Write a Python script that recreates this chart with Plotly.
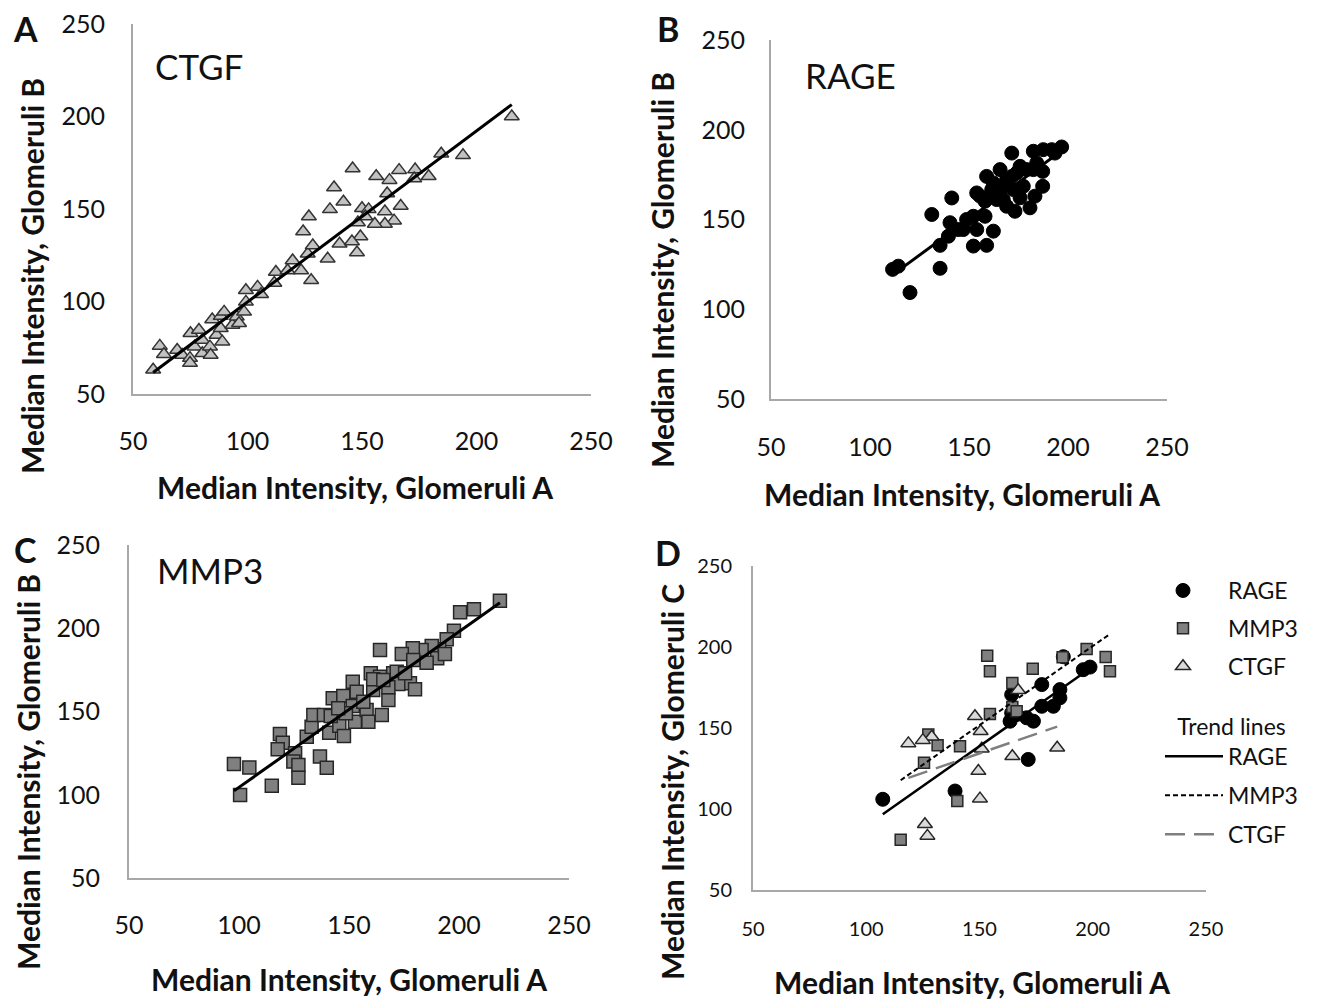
import numpy as np
import plotly.graph_objects as go

# page body adds an 8px margin; design in page pixels and compensate
OFF = 8
PAGE_W, PAGE_H = 1331, 999
W, H = PAGE_W - OFF, PAGE_H - OFF
FONT = "Lato"

tick_vals = [50, 100, 150, 200, 250]

# Panel A - CTGF (Glomeruli A vs B)
ctgf_a_x = [58.8, 61.7, 63.5, 69.3, 71.5, 74.9, 74.9, 75.1, 78.8, 76.9, 80.3, 80.3, 83.6, 83.9,
            84.6, 86.5, 88.3, 89.8, 89.0, 88.3, 93.4, 95.3, 96.3, 98.5, 99.3, 104.4, 105.9, 99.3,
            111.7, 112.4, 117.5, 119.7, 123.4, 127.8, 126.3, 128.5, 135.0, 140.2,
            215.4, 194.1, 184.6, 179.1, 173.2, 172.8, 166.2, 162.0, 156.2, 145.9, 137.8, 141.9,
            136.0, 126.8, 124.3, 161.0, 166.9, 160.0, 164.0, 160.0, 155.6, 150.0, 152.9, 148.2,
            149.3, 145.6, 147.8, 151.5]
ctgf_a_y = [63.1, 76.0, 71.5, 73.8, 71.1, 69.4, 66.7, 82.8, 84.6, 75.6, 79.2, 72.0, 75.6, 71.1,
            90.3, 81.9, 92.1, 94.4, 78.3, 85.5, 87.3, 91.8, 88.2, 94.4, 106.1, 107.9, 103.9, 99.8,
            110.0, 115.9, 116.8, 122.2, 116.8, 111.5, 125.8, 130.3, 123.1, 131.2,
            200.0, 179.0, 179.9, 167.7, 171.3, 166.5, 171.0, 165.6, 167.7, 171.9, 161.6, 153.9,
            149.8, 145.9, 137.8, 158.4, 151.6, 148.6, 143.7, 141.9, 141.9, 150.4, 149.8, 142.7,
            135.1, 132.4, 126.5, 145.9]

# Panel B - RAGE
rage_b_x = [120.2, 111.4, 114.3, 135.4, 135.4, 131.2, 141.3, 140.4, 139.6, 144.6, 152.2, 158.9,
            162.3, 153.9, 153.9, 158.1, 158.9, 162.3, 165.7, 169.0, 167.3, 173.2, 171.6, 174.1,
            177.4, 175.8, 180.8, 183.3, 187.2, 187.2, 182.5, 187.5, 191.8, 196.8, 184.2, 179.1,
            164.0, 169.0, 148.8, 147.1, 165.7, 161.5, 155.6, 171.6, 193.4, 172.4, 175.8, 158.1,
            152.2, 182.5]
rage_b_y = [109.3, 122.2, 124.0, 122.8, 135.6, 152.8, 162.0, 148.2, 140.7, 144.4, 135.2, 135.6,
            143.5, 144.4, 164.8, 160.2, 174.0, 170.4, 166.7, 172.2, 161.1, 154.6, 187.0, 175.9,
            168.5, 179.6, 156.5, 163.0, 168.5, 176.8, 188.0, 188.9, 188.9, 190.4, 181.5, 177.8,
            161.1, 157.4, 150.0, 144.4, 177.8, 166.7, 163.0, 174.0, 187.0, 166.7, 162.1, 151.8,
            151.8, 177.8]

# Panel C - MMP3
mmp3_c_x = [100.5, 97.7, 104.7, 114.9, 118.6, 119.9, 117.6, 125.5, 124.7, 127.0, 127.0, 130.8,
            133.0, 133.8, 138.6, 136.8, 139.9, 141.0, 142.6, 145.6, 147.4, 147.7, 151.7, 153.5,
            152.7, 151.7, 158.0, 158.8, 164.1, 159.9, 164.1, 164.9, 167.9, 161.0, 170.1, 148.6,
            156.5, 161.0, 141.7, 145.1,
            218.6, 206.8, 200.5, 197.7, 194.4, 191.0, 187.6, 183.0, 179.0, 174.0, 190.1, 185.3,
            179.2, 171.7, 177.7, 180.0, 172.4, 167.9, 165.6, 193.6, 175.5]
mmp3_c_y = [99.8, 118.5, 116.3, 105.4, 136.5, 131.3, 127.3, 124.9, 119.9, 117.9, 110.2, 134.9,
            140.9, 147.9, 147.9, 122.9, 116.2, 137.3, 157.9, 141.5, 159.3, 135.3, 167.9, 161.9,
            143.9, 153.3, 150.9, 143.9, 186.9, 172.9, 170.9, 147.9, 156.9, 162.9, 172.9, 148.9,
            155.9, 169.3, 147.3, 151.9,
            216.5, 211.4, 209.6, 198.5, 193.4, 187.4, 189.3, 186.9, 188.0, 184.5, 182.0, 179.3,
            180.9, 173.9, 166.9, 163.3, 166.5, 164.5, 168.9, 184.5, 172.9]

# Panel D - Glomeruli A vs C
rage_d_x = [107.3, 139.2, 171.5, 163.5, 170.8, 173.8, 164.2, 164.2, 177.5, 177.5, 182.6, 185.5,
            185.5, 195.8, 198.8, 187.0, 166.4]
rage_d_y = [106.0, 111.1, 130.6, 154.2, 156.3, 154.2, 159.3, 170.6, 176.8, 163.4, 163.4, 173.7,
            168.6, 186.0, 187.6, 194.0, 158.3]
mmp3_d_x = [153.4, 154.6, 173.5, 186.7, 164.5, 164.5, 166.4, 154.6, 127.4, 131.5, 141.4, 125.5,
            140.2, 115.2, 197.3, 205.7, 207.6]
mmp3_d_y = [194.6, 185.0, 186.6, 193.7, 177.8, 163.0, 160.3, 158.7, 146.0, 139.4, 138.8, 128.6,
            105.0, 81.0, 198.7, 193.8, 185.0]
ctgf_d_x = [118.6, 128.9, 125.0, 148.0, 150.5, 151.0, 149.5, 150.2, 167.1, 164.5, 184.3, 125.9,
            127.0]
ctgf_d_y = [140.5, 144.6, 142.5, 157.3, 148.0, 137.2, 123.4, 106.4, 173.3, 132.6, 137.8, 90.6,
            83.4]


def trend(xs, ys):
    xs = np.asarray(xs, float)
    ys = np.asarray(ys, float)
    m, b = np.polyfit(xs, ys, 1)
    x0, x1 = xs.min(), xs.max()
    return [x0, x1], [m * x0 + b, m * x1 + b]


def px_x(p):
    return (p - OFF) / W


def px_y(p):
    return 1 - (p - OFF) / H


fig = go.Figure()

EDGE = "#333333"

# A
tx, ty = trend(ctgf_a_x, ctgf_a_y)
fig.add_trace(go.Scatter(x=ctgf_a_x, y=ctgf_a_y, mode="markers", xaxis="x", yaxis="y",
                         marker=dict(symbol="triangle-up", size=13, color="#c2c2c2",
                                     line=dict(color=EDGE, width=1.5)), showlegend=False))
fig.add_trace(go.Scatter(x=tx, y=ty, mode="lines", xaxis="x", yaxis="y",
                         line=dict(color="black", width=3), showlegend=False))
# B
tx, ty = trend(rage_b_x, rage_b_y)
fig.add_trace(go.Scatter(x=rage_b_x, y=rage_b_y, mode="markers", xaxis="x2", yaxis="y2",
                         marker=dict(symbol="circle", size=14, color="black",
                                     line=dict(color="black", width=1)), showlegend=False))
fig.add_trace(go.Scatter(x=tx, y=ty, mode="lines", xaxis="x2", yaxis="y2",
                         line=dict(color="black", width=3), showlegend=False))
# C
tx, ty = trend(mmp3_c_x, mmp3_c_y)
fig.add_trace(go.Scatter(x=mmp3_c_x, y=mmp3_c_y, mode="markers", xaxis="x3", yaxis="y3",
                         marker=dict(symbol="square", size=13, color="#808080",
                                     line=dict(color="#262626", width=1.5)), showlegend=False))
fig.add_trace(go.Scatter(x=tx, y=ty, mode="lines", xaxis="x3", yaxis="y3",
                         line=dict(color="black", width=3), showlegend=False))
# D points
fig.add_trace(go.Scatter(x=rage_d_x, y=rage_d_y, mode="markers", xaxis="x4", yaxis="y4",
                         name="RAGE", legend="legend", legendgroup="p1",
                         marker=dict(symbol="circle", size=14, color="black",
                                     line=dict(color="black", width=1))))
fig.add_trace(go.Scatter(x=mmp3_d_x, y=mmp3_d_y, mode="markers", xaxis="x4", yaxis="y4",
                         name="MMP3", legend="legend", legendgroup="p2",
                         marker=dict(symbol="square", size=11, color="#808080",
                                     line=dict(color="#262626", width=1.5))))
fig.add_trace(go.Scatter(x=ctgf_d_x, y=ctgf_d_y, mode="markers", xaxis="x4", yaxis="y4",
                         name="CTGF", legend="legend", legendgroup="p3",
                         marker=dict(symbol="triangle-up", size=13, color="#dadada",
                                     line=dict(color="#262626", width=1.5))))
# D trend lines
tx, ty = trend(rage_d_x, rage_d_y)
fig.add_trace(go.Scatter(x=tx, y=ty, mode="lines", xaxis="x4", yaxis="y4", name="RAGE",
                         legend="legend2", legendgroup="l1",
                         line=dict(color="black", width=2.5)))
tx, ty = trend(mmp3_d_x, mmp3_d_y)
fig.add_trace(go.Scatter(x=tx, y=ty, mode="lines", xaxis="x4", yaxis="y4", name="MMP3",
                         legend="legend2", legendgroup="l2",
                         line=dict(color="black", width=2, dash="5px,3px")))
tx, ty = trend(ctgf_d_x, ctgf_d_y)
fig.add_trace(go.Scatter(x=tx, y=ty, mode="lines", xaxis="x4", yaxis="y4", name="CTGF",
                         legend="legend2", legendgroup="l3",
                         line=dict(color="#7f7f7f", width=2.5, dash="20px,9px")))


def axis(domain, anchor, size=25, standoff=24):
    return dict(domain=domain, anchor=anchor, range=[50, 250], tickvals=tick_vals,
                showgrid=False, zeroline=False, showline=True, linecolor="#a8a8a8",
                linewidth=2, ticks="", automargin=False, ticklabeloverflow="allow",
                tickfont=dict(family=FONT, size=size, color="#111111"),
                ticklabelstandoff=standoff, fixedrange=True)


LEG_FONT = dict(family=FONT, size=23, color="#111111")

layout = dict(
    template="none",
    width=W, height=H, margin=dict(l=0, r=0, t=0, b=0, autoexpand=False),
    paper_bgcolor="white", plot_bgcolor="white",
    xaxis=axis([px_x(133), px_x(591)], "y", 25, 24),
    yaxis=axis([px_y(394), px_y(24)], "x", 25, 21),
    xaxis2=axis([px_x(771), px_x(1167)], "y2", 25, 25),
    yaxis2=axis([px_y(399), px_y(40)], "x2", 25, 19),
    xaxis3=axis([px_x(129), px_x(569)], "y3", 25, 24),
    yaxis3=axis([px_y(878), px_y(545)], "x3", 25, 22),
    xaxis4=axis([px_x(753), px_x(1206)], "y4", 20, 20),
    yaxis4=axis([px_y(890), px_y(566)], "x4", 20, 15),
    showlegend=True,
    legend=dict(x=px_x(1138), y=px_y(569), xanchor="left", yanchor="top",
                font=LEG_FONT, tracegroupgap=5, itemwidth=80,
                bgcolor="rgba(0,0,0,0)", traceorder="grouped"),
    legend2=dict(x=px_x(1160), y=px_y(705), xanchor="left", yanchor="top",
                 font=LEG_FONT, tracegroupgap=6, itemwidth=58,
                 title=dict(text="Trend lines", font=LEG_FONT, side="top center"),
                 bgcolor="rgba(0,0,0,0)", traceorder="grouped"),
)

ann = []


def text(x, y, t, size, bold=False, xanchor="center", angle=0):
    ann.append(dict(x=px_x(x), y=px_y(y), xref="paper", yref="paper", text=t,
                    showarrow=False, xanchor=xanchor, yanchor="middle", textangle=angle,
                    font=dict(family=FONT, size=size, color="#111111",
                              weight="bold" if bold else "normal")))


for (x, y, t) in [(25, 28, "A"), (668, 28, "B"), (25, 549, "C"), (668, 552, "D")]:
    text(x, y, t, 34, True)
text(153, 66, "CTGF", 35, xanchor="left")
text(803, 75, "RAGE", 35, xanchor="left")
text(155, 570, "MMP3", 35, xanchor="left")

xt = "Median Intensity, Glomeruli A"
text(355, 487, xt, 30, True)
text(962, 494, xt, 30, True)
text(349, 979, xt, 30, True)
text(972, 982, xt, 30, True)
text(32, 276, "Median Intensity, Glomeruli B", 30, True, angle=-90)
text(662, 270, "Median Intensity, Glomeruli B", 30, True, angle=-90)
text(28, 772, "Median Intensity, Glomeruli B", 30, True, angle=-90)
text(672, 782, "Median Intensity, Glomeruli C", 30, True, angle=-90)

layout["annotations"] = ann
fig.update_layout(**layout)
fig.write_html("out.html")
